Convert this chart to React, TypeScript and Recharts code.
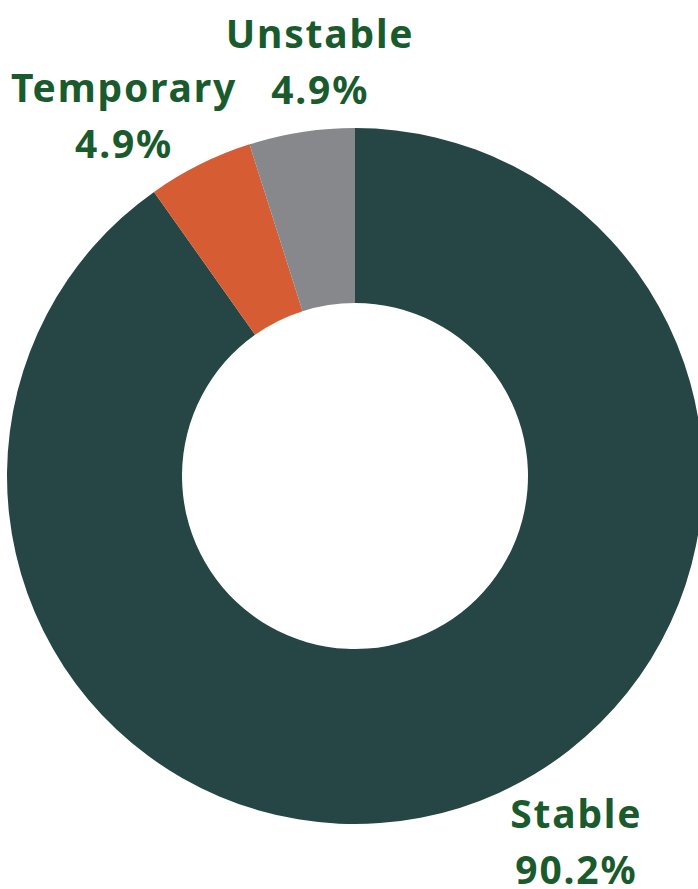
import { PieChart, Pie, Cell } from 'recharts';

const categories = ['Stable', 'Temporary', 'Unstable'];
const shares = [90.2, 4.9, 4.9];
const sliceColors = ['#264645', '#D65D33', '#87888C'];

// label placement tweaks (degrees offset from the slice middle, radius in px)
const labelAngleShift = [13.5, 6.2, -4];
const labelRadius = [428, 428, 415];

const data = categories.map((name, i) => ({ name, value: shares[i] }));

const RADIAN = Math.PI / 180;

const renderLabel = (props: any) => {
  const { cx, cy, midAngle, index, name, value } = props;
  const a = midAngle + labelAngleShift[index];
  const r = labelRadius[index];
  const x = cx + r * Math.cos(-a * RADIAN);
  const y = cy + r * Math.sin(-a * RADIAN);
  return (
    <text
      x={x}
      y={y}
      textAnchor="middle"
      fill="#1A5B2D"
      fontFamily="'Noto Sans', sans-serif"
      fontWeight={700}
      fontSize={39}
      letterSpacing={1.8}
    >
      <tspan x={x} dy={-14}>{name}</tspan>
      <tspan x={x} dy={56}>{value.toFixed(1)}%</tspan>
    </text>
  );
};

export default function App() {
  return (
    <div style={{ position: 'absolute', left: 0, top: 0, width: 698, height: 889, background: '#fff' }}>
      <PieChart width={698} height={889} margin={{ top: 0, right: 0, bottom: 0, left: 0 }}>
        <Pie
          data={data}
          dataKey="value"
          nameKey="name"
          cx={355}
          cy={476}
          innerRadius={173}
          outerRadius={348}
          startAngle={90}
          endAngle={-270}
          stroke="none"
          label={renderLabel}
          labelLine={false}
          isAnimationActive={false}
        >
          {data.map((d, i) => (
            <Cell key={d.name} fill={sliceColors[i]} />
          ))}
        </Pie>
      </PieChart>
    </div>
  );
}
